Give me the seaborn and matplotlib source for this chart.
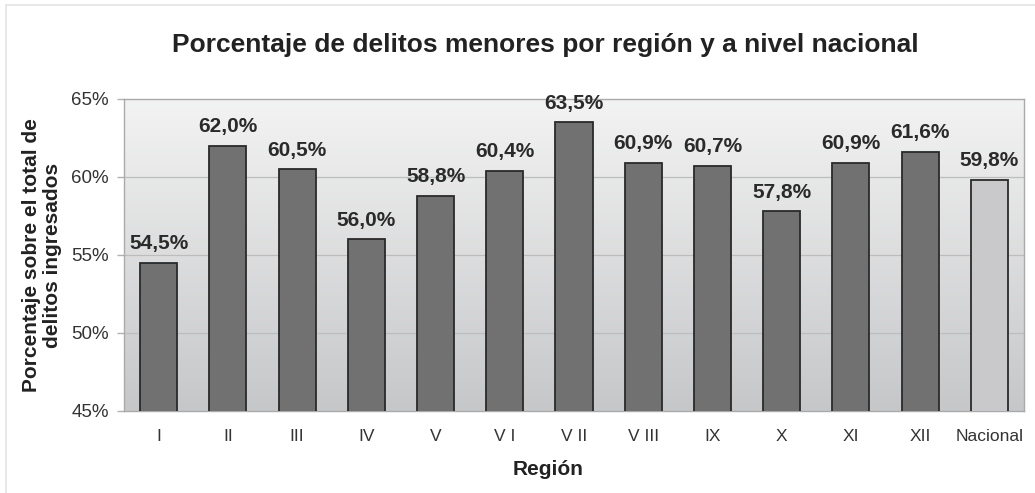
import numpy as np
import pandas as pd
import matplotlib
matplotlib.use("Agg")
import matplotlib.pyplot as plt
import seaborn as sns
from matplotlib.colors import LinearSegmentedColormap
from matplotlib.lines import Line2D

regiones = ["I", "II", "III", "IV", "V", "VI", "VII", "VIII", "IX", "X", "XI", "XII", "Nacional"]
etiquetas = ["I", "II", "III", "IV", "V", "V I", "V II", "V III", "IX", "X", "XI", "XII", "Nacional"]
porcentajes = [54.5, 62.0, 60.5, 56.0, 58.8, 60.4, 63.5, 60.9, 60.7, 57.8, 60.9, 61.6, 59.8]
tipo = ["Región"] * 12 + ["Nacional"]

df = pd.DataFrame({"region": regiones, "pct": porcentajes, "tipo": tipo})

sns.set_theme(style="white")
plt.rcParams["font.family"] = ["Liberation Sans", "DejaVu Sans"]

W, H = 1035, 493
fig = plt.figure(figsize=(W / 100, H / 100), dpi=100)

# faint outer frame
fig.add_artist(Line2D([6 / W, 6 / W], [0, 1 - 5 / H], transform=fig.transFigure, color="#e4e4e4", lw=1.2))
fig.add_artist(Line2D([6 / W, 1], [1 - 5 / H, 1 - 5 / H], transform=fig.transFigure, color="#e4e4e4", lw=1.2))

ax = fig.add_axes([124 / W, 1 - 411 / H, (1024 - 124) / W, (411 - 99) / H])

# gradient background
grad = np.linspace(0, 1, 256).reshape(-1, 1)
cmap = LinearSegmentedColormap.from_list("bg", ["#c6c7c9", "#f3f3f3"])
ax.imshow(grad, aspect="auto", cmap=cmap, extent=[0, 1, 0, 1], transform=ax.transAxes,
          origin="lower", zorder=0)

for y in [50, 55, 60]:
    ax.axhline(y, color="#bdbdbd", lw=0.9, zorder=1)

sns.barplot(data=df, x="region", y="pct", hue="tipo",
            palette={"Región": "#717171", "Nacional": "#c9c9cb"},
            dodge=False, width=0.535, edgecolor="#2a2a2a", linewidth=1.3,
            legend=False, ax=ax, zorder=3)

for i, v in enumerate(porcentajes):
    ax.text(i, v + 0.62, f"{v:.1f}%".replace(".", ","), ha="center", va="bottom",
            fontsize=15, fontweight="bold", color="#2a2a2a", zorder=4)

ax.set_ylim(45, 65)
ax.set_xlim(-0.5, len(regiones) - 0.5)
ax.set_yticks([45, 50, 55, 60, 65])
ax.set_yticklabels(["45%", "50%", "55%", "60%", "65%"], fontsize=13.5, color="#333333")
ax.set_xticks(range(len(regiones)))
ax.set_xticklabels(etiquetas, fontsize=12.5, color="#333333")
ax.set_xticks(np.arange(-0.5, len(regiones), 1), minor=True)
ax.tick_params(axis="x", which="major", length=0, pad=13)
ax.tick_params(axis="x", which="minor", length=5, color="#b0b0b0", width=1, direction="out")
ax.tick_params(axis="y", length=5, color="#b0b0b0", width=1, direction="out", pad=6, left=True)

for s in ["top", "right", "left", "bottom"]:
    ax.spines[s].set_color("#aaaaaa")
    ax.spines[s].set_linewidth(1.0)

ax.set_xlabel("Región", fontsize=15, fontweight="bold", color="#222222")
ax.xaxis.set_label_coords((548 - 124) / 900, -(460 - 411) / 312)
ax.set_ylabel("Porcentaje sobre el total de\ndelitos ingresados", fontsize=15,
              fontweight="bold", color="#222222", linespacing=1.15)
ax.yaxis.set_label_coords(-(124 - 62) / 900, 0.5)

fig.text(545 / W, 1 - 45 / H, "Porcentaje de delitos menores por región y a nivel nacional",
         ha="center", va="center", fontsize=19, fontweight="bold", color="#222222")

fig.savefig("out.png", dpi=100, facecolor="white")
